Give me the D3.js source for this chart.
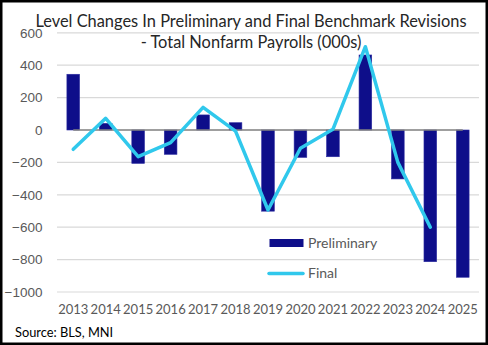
<!DOCTYPE html>
<html><head><meta charset="utf-8">
<script src="https://cdn.jsdelivr.net/npm/d3@7"></script>
<style>html,body{margin:0;padding:0;background:#fff;}svg{display:block;}</style>
</head><body>
<svg id="c" width="488" height="345"></svg>
<script>
const years = ["2013","2014","2015","2016","2017","2018","2019","2020","2021","2022","2023","2024","2025"];
const preliminary = [344, 41, -206, -150, 93, 45, -501, -169, -165, 463, -302, -813, -909];
const finalRev = [-119, 72, -165, -78, 140, -7, -494, -113, 4, 514, -200, -600];
const yTicks = [600, 400, 200, 0, -200, -400, -600, -800, -1000];
const titleLines = ["Level Changes In Preliminary and Final Benchmark Revisions", "- Total Nonfarm Payrolls (000s)"];
const sourceText = "Source: BLS, MNI";
const legendLabels = ["Preliminary", "Final"];

const svg = d3.select("#c");
const W = 488, H = 345;
const barColor = "#0E0E8A", lineColor = "#30C8EC", gridColor = "#D9D9D9", textGray = "#595959";
const font = "Lato, 'Open Sans', sans-serif";

svg.append("rect").attr("width", W).attr("height", H).attr("fill", "#fff");

const x = d3.scaleBand().domain(years).range([57, 479]).padding(0);
const y = d3.scaleLinear().domain([-1000, 600]).range([292, 32.8]);
const cx = d => x(d) + x.bandwidth() / 2;
const bw = x.bandwidth() * 0.39;

// gridlines
svg.append("g").selectAll("line").data(yTicks.filter(t => t !== 0)).join("line")
  .attr("x1", 57).attr("x2", 479)
  .attr("y1", d => y(d)).attr("y2", d => y(d))
  .attr("stroke", gridColor).attr("stroke-width", 1.2);

// y axis labels
const yAxis = d3.axisLeft(y).tickValues(yTicks).tickSize(0).tickPadding(0).tickFormat(d3.format("d"));
const yg = svg.append("g").attr("transform", "translate(42.5,0)").call(yAxis);
yg.select(".domain").remove();
yg.selectAll("text").attr("fill", textGray).style("font-family", "'Liberation Sans', Arial, sans-serif").style("font-size", "13.5px");

// x axis labels
const xAxis = d3.axisBottom(x).tickSize(0).tickPadding(0);
const xg = svg.append("g").attr("transform", "translate(0,302)").call(xAxis);
xg.select(".domain").remove();
xg.selectAll("text").attr("fill", textGray).attr("dy", "0.9em").style("font-family", font).style("font-size", "13px");

// bars
svg.append("g").selectAll("rect").data(years.map((yr, i) => ({yr, v: preliminary[i]}))).join("rect")
  .attr("x", d => cx(d.yr) - bw / 2).attr("width", bw)
  .attr("y", d => y(Math.max(0, d.v))).attr("height", d => Math.abs(y(d.v) - y(0)))
  .attr("fill", barColor).attr("stroke", "#2B2BA0").attr("stroke-width", 0.6);

// zero line
svg.append("line").attr("x1", cx(years[0])).attr("x2", cx(years[years.length - 1]))
  .attr("y1", y(0)).attr("y2", y(0)).attr("stroke", "#7F7F7F").attr("stroke-width", 1.5);

// final line
const line = d3.line().x(d => cx(d.yr)).y(d => y(d.v));
svg.append("path").datum(finalRev.map((v, i) => ({yr: years[i], v})))
  .attr("d", line).attr("fill", "none").attr("stroke", lineColor)
  .attr("stroke-width", 3.5).attr("stroke-linejoin", "round").attr("stroke-linecap", "round");

// legend
svg.append("rect").attr("x", 269.5).attr("y", 239).attr("width", 34).attr("height", 8).attr("fill", barColor);
svg.append("line").attr("x1", 269).attr("x2", 303).attr("y1", 273.5).attr("y2", 273.5)
  .attr("stroke", lineColor).attr("stroke-width", 3.5).attr("stroke-linecap", "round");
svg.append("text").attr("x", 308).attr("y", 243).attr("dy", "0.35em").text(legendLabels[0])
  .attr("fill", textGray).style("font-family", font).style("font-size", "14px");
svg.append("text").attr("x", 308).attr("y", 273.5).attr("dy", "0.35em").text(legendLabels[1])
  .attr("fill", textGray).style("font-family", font).style("font-size", "14px");

// title
svg.append("text").attr("x", 251).attr("y", 26.5).attr("text-anchor", "middle").text(titleLines[0])
  .attr("fill", "#262626").style("font-family", font).style("font-size", "16.4px");
svg.append("text").attr("x", 251).attr("y", 47.5).attr("text-anchor", "middle").text(titleLines[1])
  .attr("fill", "#262626").style("font-family", font).style("font-size", "16.4px");

// source
svg.append("text").attr("x", 15).attr("y", 337).text(sourceText)
  .attr("fill", "#000").style("font-family", font).style("font-size", "12.8px");

// border
svg.append("rect").attr("x", 1.25).attr("y", 1.25).attr("width", W - 2.5).attr("height", H - 2.5)
  .attr("fill", "none").attr("stroke", "#000").attr("stroke-width", 2.5);
</script>
</body></html>
